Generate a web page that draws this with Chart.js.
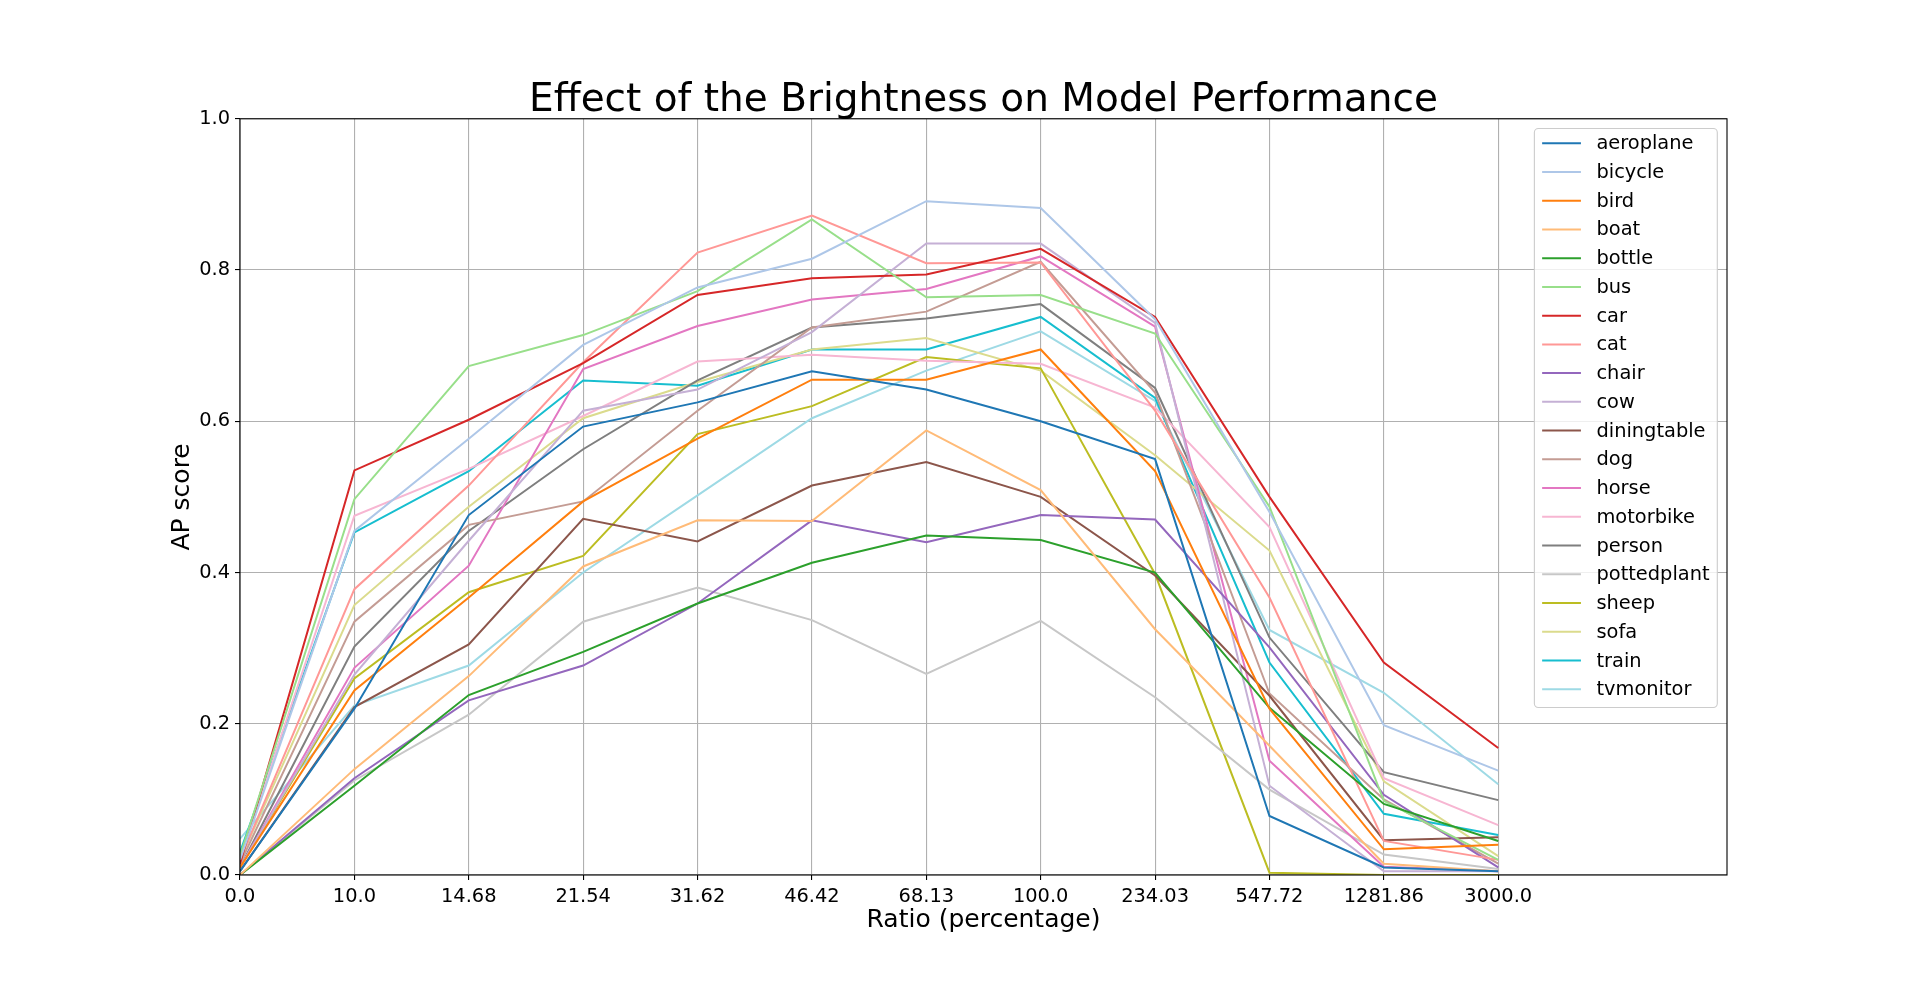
<!DOCTYPE html>
<html>
<head>
<meta charset="utf-8">
<title>Effect of the Brightness on Model Performance</title>
<script src="https://cdn.jsdelivr.net/npm/chart.js@4.4.1/dist/chart.umd.min.js"></script>
<style>
  html, body { margin: 0; padding: 0; background: #fff; }
  #wrap { width: 1920px; height: 983px; }
</style>
</head>
<body>
<div id="wrap"><canvas id="brightness-chart"></canvas></div>
<script>
// Brightness ratios (x tick labels), drawn at equal spacing
const ratioLabels = ['0.0', '10.0', '14.68', '21.54', '31.62', '46.42', '68.13', '100.0', '234.03', '547.72', '1281.86', '3000.0'];

// AP score per class, one value per ratio
const aeroplane   = [0.005, 0.220, 0.476, 0.593, 0.625, 0.666, 0.642, 0.600, 0.550, 0.078, 0.010, 0.005];
const bicycle     = [0.020, 0.455, 0.577, 0.701, 0.777, 0.815, 0.891, 0.882, 0.735, 0.480, 0.198, 0.138];
const bird        = [0.010, 0.244, 0.367, 0.494, 0.577, 0.655, 0.655, 0.695, 0.534, 0.220, 0.034, 0.040];
const boat        = [0.000, 0.140, 0.263, 0.408, 0.469, 0.468, 0.588, 0.509, 0.325, 0.171, 0.015, 0.005];
const bottle      = [0.000, 0.118, 0.238, 0.295, 0.359, 0.413, 0.449, 0.443, 0.400, 0.221, 0.094, 0.045];
const bus         = [0.025, 0.497, 0.673, 0.714, 0.772, 0.867, 0.764, 0.767, 0.716, 0.487, 0.098, 0.020];
const car         = [0.015, 0.535, 0.602, 0.677, 0.767, 0.789, 0.794, 0.828, 0.738, 0.500, 0.281, 0.168];
const cat         = [0.020, 0.378, 0.515, 0.678, 0.823, 0.872, 0.809, 0.810, 0.614, 0.367, 0.045, 0.020];
const chair       = [0.000, 0.128, 0.231, 0.277, 0.359, 0.469, 0.440, 0.476, 0.470, 0.301, 0.106, 0.010];
const cow         = [0.010, 0.265, 0.442, 0.614, 0.642, 0.718, 0.835, 0.835, 0.730, 0.118, 0.005, 0.005];
const diningtable = [0.005, 0.222, 0.305, 0.471, 0.441, 0.515, 0.546, 0.500, 0.396, 0.237, 0.046, 0.050];
const dog         = [0.015, 0.335, 0.463, 0.494, 0.614, 0.724, 0.745, 0.811, 0.638, 0.240, 0.100, 0.015];
const horse       = [0.010, 0.274, 0.409, 0.669, 0.726, 0.761, 0.775, 0.818, 0.725, 0.151, 0.011, 0.005];
const motorbike   = [0.020, 0.475, 0.537, 0.607, 0.679, 0.688, 0.680, 0.676, 0.618, 0.460, 0.128, 0.066];
const person      = [0.010, 0.302, 0.455, 0.563, 0.654, 0.724, 0.736, 0.755, 0.644, 0.314, 0.136, 0.099];
const pottedplant = [0.000, 0.125, 0.212, 0.335, 0.380, 0.337, 0.266, 0.336, 0.235, 0.113, 0.027, 0.008];
const sheep       = [0.010, 0.260, 0.374, 0.422, 0.583, 0.620, 0.685, 0.670, 0.398, 0.003, 0.000, 0.000];
const sofa        = [0.020, 0.357, 0.487, 0.604, 0.652, 0.695, 0.710, 0.667, 0.555, 0.429, 0.124, 0.025];
const train       = [0.030, 0.453, 0.534, 0.654, 0.647, 0.695, 0.695, 0.738, 0.631, 0.281, 0.081, 0.053];
const tvmonitor   = [0.048, 0.224, 0.277, 0.400, 0.502, 0.604, 0.667, 0.719, 0.627, 0.324, 0.241, 0.120];

const classNames = ['aeroplane', 'bicycle', 'bird', 'boat', 'bottle', 'bus', 'car', 'cat', 'chair', 'cow',
  'diningtable', 'dog', 'horse', 'motorbike', 'person', 'pottedplant', 'sheep', 'sofa', 'train', 'tvmonitor'];
const classValues = [aeroplane, bicycle, bird, boat, bottle, bus, car, cat, chair, cow,
  diningtable, dog, horse, motorbike, person, pottedplant, sheep, sofa, train, tvmonitor];

// tab20 palette
const classColors = ['#1f77b4', '#aec7e8', '#ff7f0e', '#ffbb78', '#2ca02c', '#98df8a', '#d62728', '#ff9896',
  '#9467bd', '#c5b0d5', '#8c564b', '#c49c94', '#e377c2', '#f7b6d2', '#7f7f7f', '#c7c7c7', '#bcbd22', '#dbdb8d',
  '#17becf', '#9edae5'];

Chart.defaults.font.family = '"DejaVu Sans", sans-serif';
Chart.defaults.color = '#000';

const datasets = classNames.map((name, i) => ({
  label: name,
  data: classValues[i].map((v, j) => ({ x: j, y: v })),
  borderColor: classColors[i],
  backgroundColor: classColors[i],
  borderWidth: 2,
  pointRadius: 0,
  tension: 0,
  fill: false,
}));

// Center the title over the plot area instead of the whole canvas
const titleOverPlot = {
  id: 'titleOverPlot',
  afterLayout(chart) {
    if (chart.titleBlock) {
      chart.titleBlock.left = chart.chartArea.left;
      chart.titleBlock.right = chart.chartArea.right;
    }
  }
};

// Axes frame plus a matplotlib-like legend in the upper right of the plot
const frameAndLegend = {
  id: 'frameAndLegend',
  afterDatasetsDraw(chart) {
    const { ctx, chartArea } = chart;
    ctx.save();
    ctx.strokeStyle = '#000';
    ctx.lineWidth = 1.1;
    ctx.strokeRect(chartArea.left, chartArea.top, chartArea.right - chartArea.left, chartArea.bottom - chartArea.top);

    const fs = 19.4;
    ctx.font = fs + 'px "DejaVu Sans"';
    const items = chart.data.datasets;
    const textW = Math.max(...items.map(d => ctx.measureText(d.label).width));
    const pad = 0.4 * fs, handle = 2 * fs, gap = 0.8 * fs, rowH = 28.74;
    const w = pad + handle + gap + textW + pad;
    const h = 14.7 + rowH * (items.length - 1) + 18.3;
    const x0 = chartArea.right - 0.5 * fs - w;
    const y0 = chartArea.top + 0.5 * fs;
    const r = 4;

    ctx.beginPath();
    ctx.moveTo(x0 + r, y0);
    ctx.lineTo(x0 + w - r, y0);
    ctx.arcTo(x0 + w, y0, x0 + w, y0 + r, r);
    ctx.lineTo(x0 + w, y0 + h - r);
    ctx.arcTo(x0 + w, y0 + h, x0 + w - r, y0 + h, r);
    ctx.lineTo(x0 + r, y0 + h);
    ctx.arcTo(x0, y0 + h, x0, y0 + h - r, r);
    ctx.lineTo(x0, y0 + r);
    ctx.arcTo(x0, y0, x0 + r, y0, r);
    ctx.closePath();
    ctx.fillStyle = 'rgba(255,255,255,0.8)';
    ctx.fill();
    ctx.strokeStyle = '#cccccc';
    ctx.lineWidth = 1.1;
    ctx.stroke();

    ctx.textBaseline = 'middle';
    ctx.textAlign = 'left';
    items.forEach((d, i) => {
      const y = y0 + 14.7 + i * rowH;
      ctx.beginPath();
      ctx.strokeStyle = d.borderColor;
      ctx.lineWidth = 2;
      ctx.moveTo(x0 + pad, y);
      ctx.lineTo(x0 + pad + handle, y);
      ctx.stroke();
      ctx.fillStyle = '#000';
      ctx.fillText(d.label, x0 + pad + handle + gap, y + 1);
    });
    ctx.restore();
  }
};

const ctx = document.getElementById('brightness-chart').getContext('2d');
new Chart(ctx, {
  type: 'line',
  data: { datasets },
  plugins: [titleOverPlot, frameAndLegend],
  options: {
    responsive: true,
    maintainAspectRatio: false,
    animation: false,
    layout: { padding: { left: 162, right: 193, top: 0, bottom: 47.2 } },
    plugins: {
      legend: { display: false },
      tooltip: { enabled: false },
      title: {
        display: true,
        text: 'Effect of the Brightness on Model Performance',
        font: { size: 39, weight: 'normal' },
        color: '#000',
        padding: { top: 77.5, bottom: -5.5 },
      },
    },
    scales: {
      x: {
        type: 'linear',
        min: 0,
        max: 13,
        afterBuildTicks(scale) {
          scale.ticks = ratioLabels.map((_, i) => ({ value: i }));
        },
        afterFit(scale) { scale.height = 60.8; },
        ticks: {
          callback: (v) => ratioLabels[v],
          autoSkip: false,
          maxRotation: 0,
          padding: 5,
          font: { size: 19.4 },
          color: '#000',
        },
        grid: { color: '#b0b0b0', lineWidth: 1.1, tickColor: '#000', tickLength: 5 },
        border: { display: false },
        title: { display: true, text: 'Ratio (percentage)', font: { size: 25 }, padding: { top: 4, bottom: 0.5 } },
      },
      y: {
        min: 0,
        max: 1,
        afterFit(scale) { scale.width = 78; },
        ticks: {
          stepSize: 0.2,
          callback: (v) => v.toFixed(1),
          padding: 5,
          font: { size: 19.4 },
          color: '#000',
        },
        grid: { color: '#b0b0b0', lineWidth: 1.1, tickColor: '#000', tickLength: 5 },
        border: { display: false },
        title: { display: true, text: 'AP score', font: { size: 25 }, padding: { top: 5.3, bottom: 4 } },
      },
    },
  },
});
</script>
</body>
</html>
